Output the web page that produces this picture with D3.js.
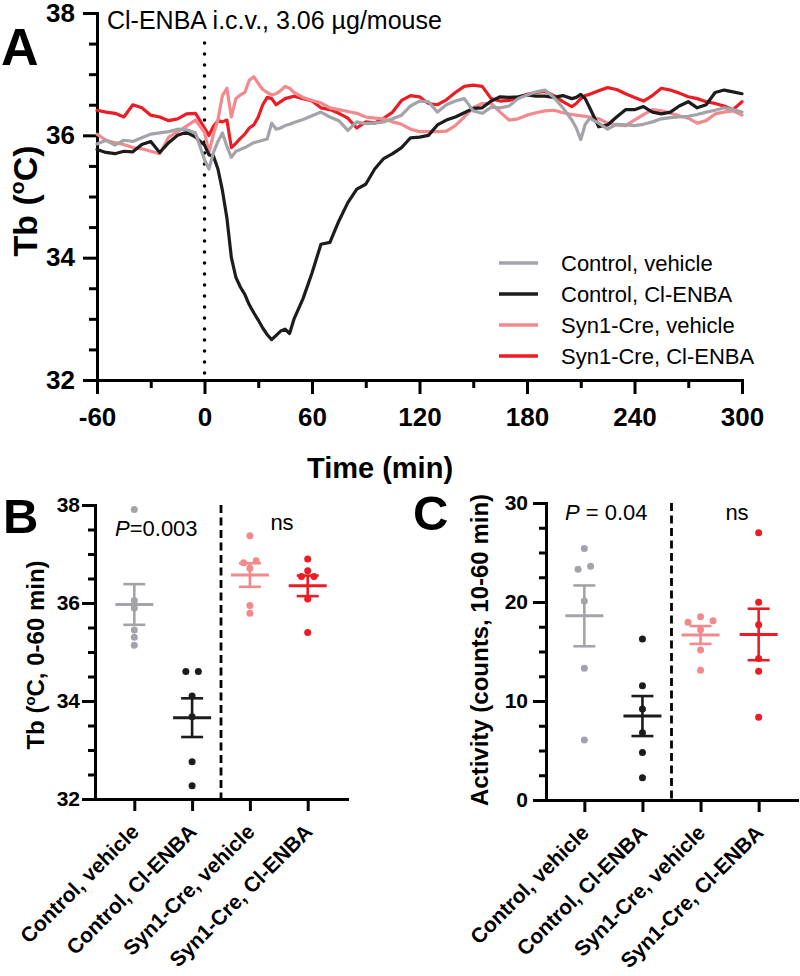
<!DOCTYPE html>
<html><head><meta charset="utf-8">
<script src="https://cdn.jsdelivr.net/npm/d3@7"></script>
<style>
body{margin:0;background:#fff}
svg{display:block}
text{font-family:Arial,"Liberation Sans",Helvetica,sans-serif;fill:#000}
</style>
</head><body>
<svg id="c" width="800" height="976"></svg>
<script>
// ---------------- DATA ----------------
const time = [-60,-55,-50,-45,-40,-35,-30,-25,-20,-15,-10,-5,
  0,2.5,5,7.5,10,12.5,15,17.5,20,22.5,25,27.5,30,32.5,35,37.5,40,42.5,45,47.5,50,
  55,60,65,70,75,80,85,90,95,100,105,110,115,120,125,130,135,140,145,150,155,160,165,170,175,180,185,190,195,200,
  205,207.5,210,212.5,215,
  220,225,230,235,240,245,250,255,260,265,270,275,280,285,290,295,300];

const ctrlVehicle = [35.86,35.92,35.84,35.92,35.9,35.96,36.02,36.04,36.06,36.1,36.09,36.04,
  35.6,35.45,35.72,35.9,36.04,35.82,35.64,35.74,35.77,35.8,35.84,35.88,35.9,35.92,35.94,36.2,36.1,36.12,36.16,36.18,36.21,
  36.26,36.32,36.38,36.3,36.24,36.08,36.22,36.19,36.2,36.22,36.27,36.33,36.48,36.56,36.55,36.38,36.5,36.56,36.6,36.4,36.36,36.46,36.45,36.48,36.6,36.66,36.71,36.74,36.62,36.45,
  36.25,36.12,35.93,36.18,36.28,
  36.2,36.1,36.18,36.17,36.16,36.18,36.22,36.27,36.29,36.3,36.31,36.34,36.38,36.41,36.45,36.42,36.38];

const ctrlEnba = [35.77,35.72,35.7,35.74,35.73,35.85,35.9,35.72,35.88,36.0,36.05,35.97,
  35.84,35.68,35.66,35.45,35.1,34.65,34.0,33.68,33.52,33.4,33.23,33.1,32.98,32.85,32.74,32.66,32.73,32.8,32.83,32.76,33.0,
  33.33,33.75,34.22,34.25,34.6,34.9,35.12,35.2,35.45,35.62,35.7,35.8,35.96,35.97,36.0,36.17,36.25,36.3,36.37,36.44,36.45,36.56,36.63,36.62,36.63,36.66,36.64,36.64,36.62,36.65,
  36.6,36.62,36.67,36.6,36.45,
  36.14,36.17,36.3,36.42,36.42,36.47,36.38,36.35,36.38,36.48,36.55,36.45,36.5,36.7,36.74,36.71,36.68];

const synVehicle = [36.02,35.92,35.88,35.85,35.8,35.78,35.74,35.7,35.97,36.06,36.15,36.25,
  36.05,35.72,36.02,36.25,36.65,36.77,36.3,36.6,36.66,36.7,36.9,36.96,36.85,36.75,36.7,36.66,36.68,36.73,36.8,36.77,36.7,
  36.62,36.57,36.53,36.45,36.42,36.39,36.36,36.3,36.28,36.27,36.22,36.18,36.1,36.06,36.06,36.06,36.07,36.16,36.3,36.45,36.52,36.52,36.38,36.25,36.27,36.33,36.37,36.4,36.41,36.37,
  36.34,36.33,36.32,36.31,36.3,
  36.27,36.2,36.17,36.16,36.25,36.34,36.42,36.4,36.36,36.32,36.28,36.2,36.24,36.35,36.38,36.4,36.33];

const synEnba = [36.41,36.38,36.36,36.3,36.5,36.45,36.33,36.3,36.24,36.27,36.35,36.36,
  36.12,36.0,36.15,36.24,36.22,36.25,35.8,35.87,35.95,36.02,36.12,36.17,36.3,36.5,36.62,36.6,36.5,36.55,36.6,36.62,36.64,
  36.6,36.56,36.45,36.42,36.36,36.28,36.12,36.22,36.2,36.28,36.38,36.57,36.65,36.63,36.52,36.5,36.58,36.7,36.8,36.82,36.8,36.6,36.56,36.57,36.62,36.67,36.7,36.72,36.65,36.55,
  36.47,36.52,36.6,36.65,36.67,
  36.73,36.78,36.75,36.68,36.62,36.56,36.65,36.77,36.74,36.69,36.63,36.6,36.55,36.52,36.48,36.42,36.55];

const groups = ["Control, vehicle","Control, Cl-ENBA","Syn1-Cre, vehicle","Syn1-Cre, Cl-ENBA"];
const colors = ["#a3a4a9","#1c1c1c","#f3898c","#ec1c24"];

const tbTicks = [32,34,36,38];
const timeTicks = [-60,0,60,120,180,240,300];
const timeMinor = [-30,30,90,150,210,270];
const actTicks = [0,10,20,30];

// Panel B: Tb (0-60 min)
const tbPoints = [
  [37.91,36.05,35.9,35.45,35.3,35.14],
  [34.6,34.6,34.1,33.68,32.76,32.27],
  [37.37,36.82,36.86,36.71,35.95,35.79],
  [36.9,36.66,36.54,36.54,36.08,35.4]
];
const tbMean = [35.97,33.66,36.57,36.35];
const tbSem  = [0.415,0.395,0.24,0.21];

// Panel C: Activity (10-60 min)
const actPoints = [
  [25.4,23.3,23.6,20.1,13.3,6.06],
  [16.26,11.55,9.19,6.8,4.8,2.25],
  [17.95,18.5,18.1,17.2,15.15,13.1],
  [27.0,19.97,17.7,14.3,13.0,8.35]
];
const actMean = [18.6,8.48,16.67,16.72];
const actSem  = [3.07,2.02,0.9,2.6];

// ---------------- DRAW ----------------
const svg = d3.select("#c");
const fmt = d => String(d);

function styleAxis(g, fs){
  g.select(".domain").attr("stroke","#000").attr("stroke-width",3).attr("stroke-linecap","square");
  g.selectAll(".tick line").attr("stroke","#000").attr("stroke-width",3);
  g.selectAll(".tick text").attr("font-size",fs).attr("font-weight","bold").attr("fill","#000")
    .attr("font-family",'Arial,"Liberation Sans",Helvetica,sans-serif');
}
function minorAxis(g){
  g.select(".domain").remove();
  g.selectAll(".tick line").attr("stroke","#000").attr("stroke-width",3);
}
function yLabel(x, y, fs, parts){
  const t = svg.append("text").attr("transform",`translate(${x},${y}) rotate(-90)`)
    .attr("text-anchor","middle").attr("font-weight","bold").attr("font-size",fs);
  t.append("tspan").text(parts[0]);
  t.append("tspan").text("o").attr("font-size",fs*0.62).attr("dy",-fs*0.38);
  t.append("tspan").text(parts[1]).attr("dy",fs*0.38);
  return t;
}

// ===== Panel A =====
const ax = d3.scaleLinear().domain([-60,300]).range([97,742]);
const ay = d3.scaleLinear().domain([32,38]).range([380,13]);

svg.append("g").attr("transform","translate(0,380)")
  .call(d3.axisBottom(ax).tickValues(timeMinor).tickSize(8).tickFormat(""))
  .call(minorAxis);
svg.append("g").attr("transform","translate(97,0)")
  .call(d3.axisLeft(ay).tickValues(d3.range(32.5,38,0.5).filter(v=>v%2!==0)).tickSize(8).tickFormat(""))
  .call(minorAxis);
svg.append("g").attr("transform","translate(0,380)")
  .call(d3.axisBottom(ax).tickValues(timeTicks).tickFormat(fmt).tickSize(14).tickSizeOuter(0).tickPadding(14))
  .call(g=>styleAxis(g,26));
svg.append("g").attr("transform","translate(97,0)")
  .call(d3.axisLeft(ay).tickValues(tbTicks).tickFormat(fmt).tickSize(14).tickSizeOuter(0).tickPadding(8))
  .call(g=>styleAxis(g,26));

// dotted injection line
svg.append("line").attr("x1",ax(0)).attr("x2",ax(0)).attr("y1",43).attr("y2",378)
  .attr("stroke","#000").attr("stroke-width",3.6).attr("stroke-linecap","round").attr("stroke-dasharray","0 11");

const seriesVals = [ctrlVehicle, ctrlEnba, synVehicle, synEnba];
const line = d3.line().x(d=>ax(d[0])).y(d=>ay(d[1]));
[3,2,1,0].forEach(i=>{
  svg.append("path").datum(time.map((t,k)=>[t,seriesVals[i][k]]))
    .attr("d",line).attr("fill","none").attr("stroke",colors[i])
    .attr("stroke-width",3.2).attr("stroke-linejoin","round").attr("stroke-linecap","round");
});

svg.append("text").attr("x",107).attr("y",29).attr("font-size",25).text("Cl-ENBA i.c.v., 3.06 µg/mouse");

// legend
const legY = [263,294,325,356];
groups.forEach((g,i)=>{
  svg.append("line").attr("x1",499).attr("x2",538).attr("y1",legY[i]).attr("y2",legY[i])
    .attr("stroke",colors[i]).attr("stroke-width",3.5);
  svg.append("text").attr("x",561).attr("y",legY[i]).attr("dy","0.36em").attr("font-size",22).text(g);
});

yLabel(37, 201, 34, ["Tb (","C)"]);
svg.append("text").attr("x",380).attr("y",478).attr("text-anchor","middle")
  .attr("font-weight","bold").attr("font-size",29).text("Time (min)");
svg.append("text").attr("x",1).attr("y",65).attr("font-weight","bold").attr("font-size",52).text("A");

// ===== Dot plots =====
function dotPanel(opt){
  const x = d3.scalePoint().domain(groups).range(opt.xr).padding(opt.pad);
  const y = d3.scaleLinear().domain(opt.dom).range(opt.yr);
  const x0 = opt.xr[0], yb = opt.yr[0];
  svg.append("g").attr("transform",`translate(${x0},0)`)
    .call(d3.axisLeft(y).tickValues(opt.minor).tickSize(7).tickFormat("")).call(minorAxis);
  svg.append("g").attr("transform",`translate(${x0},0)`)
    .call(d3.axisLeft(y).tickValues(opt.ticks).tickFormat(fmt).tickSize(13).tickSizeOuter(0).tickPadding(opt.ypad))
    .call(g=>styleAxis(g,21));
  svg.append("g").attr("transform",`translate(0,${yb})`)
    .call(d3.axisBottom(x).tickSize(12).tickSizeOuter(0).tickFormat(""))
    .call(g=>styleAxis(g,21));
  // category labels
  groups.forEach(gname=>{
    svg.append("text").attr("transform",`translate(${x(gname)+6},${yb+34}) rotate(-45)`)
      .attr("text-anchor","end").attr("font-weight","bold").attr("font-size",21).text(gname);
  });
  // dashed separator
  const sx = (x(groups[1])+x(groups[2]))/2;
  svg.append("line").attr("x1",sx).attr("x2",sx).attr("y1",opt.yr[1]).attr("y2",yb)
    .attr("stroke","#000").attr("stroke-width",2.8).attr("stroke-dasharray","8 4.5");
  // dots with simple swarm offsets for (near) equal values
  opt.points.forEach((vals,gi)=>{
    const py = vals.map(v=>y(v));
    const cl = vals.map((v,i)=>i);
    const find = i=>cl[i]===i?i:(cl[i]=find(cl[i]));
    for(let i=0;i<vals.length;i++)for(let j=i+1;j<vals.length;j++)
      if(Math.abs(py[i]-py[j])<5) cl[find(j)]=find(i);
    const clusters = d3.groups(vals.map((v,i)=>i), i=>find(i));
    const off = new Array(vals.length).fill(0);
    clusters.forEach(([k,idx])=>{ idx.forEach((i,n)=>{ off[i]=(n-(idx.length-1)/2)*12.5; }); });
    vals.forEach((v,i)=>{
      svg.append("circle").attr("cx",x(groups[gi])+off[i]).attr("cy",y(v)).attr("r",3.5).attr("fill",colors[gi]);
    });
    const cx = x(groups[gi]), m = opt.mean[gi], s = opt.sem[gi];
    const c = colors[gi];
    svg.append("line").attr("x1",cx).attr("x2",cx).attr("y1",y(m+s)).attr("y2",y(m-s)).attr("stroke",c).attr("stroke-width",2.6);
    svg.append("line").attr("x1",cx-11).attr("x2",cx+11).attr("y1",y(m+s)).attr("y2",y(m+s)).attr("stroke",c).attr("stroke-width",2.6);
    svg.append("line").attr("x1",cx-11).attr("x2",cx+11).attr("y1",y(m-s)).attr("y2",y(m-s)).attr("stroke",c).attr("stroke-width",2.6);
    svg.append("line").attr("x1",cx-19).attr("x2",cx+19).attr("y1",y(m)).attr("y2",y(m)).attr("stroke",c).attr("stroke-width",3);
  });
  return {x,y};
}

dotPanel({xr:[95,347], pad:0.68, yr:[799,505], dom:[32,38], ticks:tbTicks,
  minor:d3.range(32.5,38,0.5).filter(v=>v%2!==0), ypad:2,
  points:tbPoints, mean:tbMean, sem:tbSem});
dotPanel({xr:[546,797], pad:0.66, yr:[800,503], dom:[0,30], ticks:actTicks,
  minor:d3.range(2.5,30,2.5).filter(v=>v%10!==0), ypad:5,
  points:actPoints, mean:actMean, sem:actSem});

// panel B labels
svg.append("text").attr("x",3).attr("y",533).attr("font-weight","bold").attr("font-size",49).text("B");
yLabel(44, 655, 24, ["Tb (","C, 0-60 min)"]);
const pB = svg.append("text").attr("x",115).attr("y",536).attr("font-size",22);
pB.append("tspan").attr("font-style","italic").text("P");
pB.append("tspan").text("=0.003");
svg.append("text").attr("x",282).attr("y",530).attr("text-anchor","middle").attr("font-size",22).text("ns");

// panel C labels
svg.append("text").attr("x",413).attr("y",530).attr("font-weight","bold").attr("font-size",49).text("C");
svg.append("text").attr("transform","translate(488,650) rotate(-90)").attr("text-anchor","middle")
  .attr("font-weight","bold").attr("font-size",24).text("Activity (counts, 10-60 min)");
const pC = svg.append("text").attr("x",565).attr("y",520).attr("font-size",22);
pC.append("tspan").attr("font-style","italic").text("P");
pC.append("tspan").text(" = 0.04");
svg.append("text").attr("x",737).attr("y",520).attr("text-anchor","middle").attr("font-size",22).text("ns");
</script>
</body></html>
